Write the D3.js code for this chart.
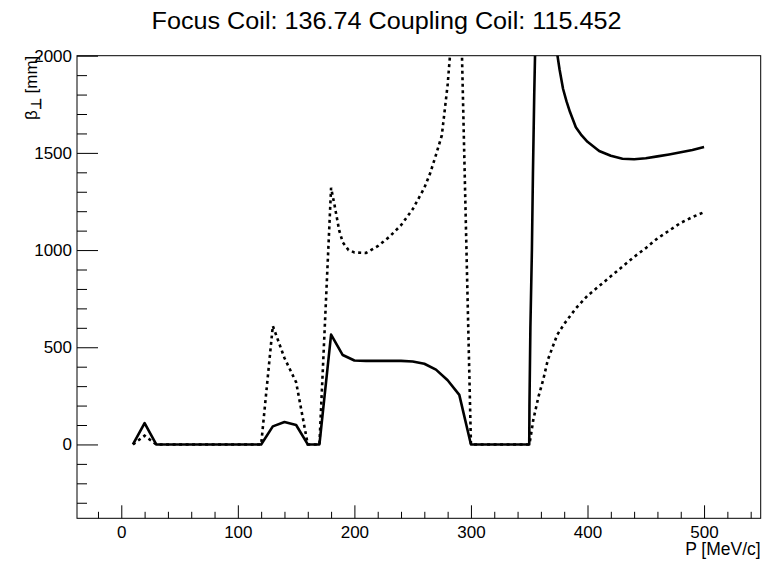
<!DOCTYPE html>
<html>
<head>
<meta charset="utf-8">
<script src="https://cdn.jsdelivr.net/npm/d3@7"></script>
<style>
  html, body { margin: 0; padding: 0; background: #fff; }
  text { font-family: "Liberation Sans", Arial, Helvetica, sans-serif; fill: #000; }
</style>
</head>
<body>
<svg id="chart" width="773" height="561"></svg>
<script>
// ---- data ----
const titleText = "Focus Coil: 136.74 Coupling Coil: 115.452";
const xTitle = "P [MeV/c]";
const yTickValues = [0, 500, 1000, 1500, 2000];
const xTickValues = [0, 100, 200, 300, 400, 500];

// solid curve
const solidP = [10, 20, 30, 40, 50, 60, 70, 80, 90, 100, 110, 120, 130, 140, 150, 160, 170, 180, 190, 200,
  210, 220, 230, 240, 250, 260, 270, 280, 290, 300, 310, 320, 330, 340, 350, 350.2, 351, 352.3, 353.2, 354.3, 356, 360,
  370, 373, 376, 379, 382, 385, 390, 395, 400, 410, 420, 430, 440, 450, 460, 470, 480, 490, 500];
const solidBeta = [0, 110, 0, 0, 0, 0, 0, 0, 0, 0, 0, 0, 93, 115, 100, 0, 0, 565, 460, 432,
  430, 430, 430, 430, 427, 415, 385, 330, 255, 0, 0, 0, 0, 0, 0, 200, 600, 1000, 1400, 1800, 2300, 6000,
  2300, 2050, 1930, 1830, 1765, 1710, 1632, 1590, 1557, 1510, 1485, 1470, 1467, 1472, 1482, 1492, 1503, 1515, 1530];

// dotted curve
const dottedP = [10, 20, 30, 40, 50, 60, 70, 80, 90, 100, 110, 120, 130, 140, 150, 160, 170, 180, 183, 187, 190, 195, 200,
  210, 220, 230, 240, 250, 260, 265, 270, 275, 280, 290, 300, 310, 320, 330, 340, 350, 351, 353.5, 358, 362, 366, 370, 374,
  380, 390, 400, 410, 420, 430, 440, 450, 460, 470, 480, 490, 500];
const dottedBeta = [0, 45, 0, 0, 0, 0, 0, 0, 0, 0, 0, 0, 610, 445, 320, 0, 0, 1320, 1230, 1100, 1040, 1000, 988,
  985, 1020, 1068, 1128, 1210, 1320, 1395, 1490, 1590, 1850, 2600, 0, 0, 0, 0, 0, 0, 30, 127, 247, 333, 436, 500, 564,
  620, 700, 765, 815, 865, 915, 965, 1010, 1060, 1100, 1140, 1170, 1195];

// ---- layout ----
const frame = { left: 77, right: 760.7, top: 55.7, bottom: 518.3 };
const svg = d3.select("#chart");

const x = d3.scaleLinear().domain([-38, 548.6]).range([frame.left, frame.right]);
const y = d3.scaleLinear().domain([-380, 2000]).range([frame.bottom, frame.top]);

// clip
svg.append("defs").append("clipPath").attr("id", "clip")
  .append("rect")
  .attr("x", frame.left).attr("y", frame.top)
  .attr("width", frame.right - frame.left).attr("height", frame.bottom - frame.top);

// frame
svg.append("rect")
  .attr("x", frame.left).attr("y", frame.top)
  .attr("width", frame.right - frame.left).attr("height", frame.bottom - frame.top)
  .attr("fill", "none").attr("stroke", "#000").attr("stroke-width", 1);

// minor ticks
const yMinor = d3.range(-300, 2000, 100).filter(v => v % 500 !== 0);
const xMinor = d3.range(-20, 548, 20).filter(v => v % 100 !== 0);

const yMinorAxis = d3.axisLeft(y).tickValues(yMinor).tickSize(-10).tickSizeOuter(0).tickFormat("");
const xMinorAxis = d3.axisBottom(x).tickValues(xMinor).tickSize(-6.5).tickSizeOuter(0).tickFormat("");
const yAxis = d3.axisLeft(y).tickValues(yTickValues).tickSize(-21).tickSizeOuter(0).tickPadding(5).tickFormat(d3.format("d"));
const xAxis = d3.axisBottom(x).tickValues(xTickValues).tickSize(-13).tickSizeOuter(0).tickPadding(9).tickFormat(d3.format("d"));

function styleAxis(g) {
  g.select(".domain").remove();
  g.selectAll("line").attr("stroke", "#000").attr("stroke-width", 1);
  g.selectAll("text").attr("font-family", "Liberation Sans, Arial, sans-serif").attr("font-size", 17).attr("fill", "#000");
}

svg.append("g").attr("transform", `translate(${frame.left},0)`).call(yMinorAxis).call(styleAxis);
svg.append("g").attr("transform", `translate(0,${frame.bottom})`).call(xMinorAxis).call(styleAxis);
const gy = svg.append("g").attr("transform", `translate(${frame.left},0)`).call(yAxis).call(styleAxis);
const gx = svg.append("g").attr("transform", `translate(0,${frame.bottom})`).call(xAxis).call(styleAxis);
gx.selectAll("text").attr("dy", "0.71em").attr("y", 8);

// curves
const line = d3.line().x(d => x(d[0])).y(d => y(d[1]));
const plot = svg.append("g").attr("clip-path", "url(#clip)");

plot.append("path")
  .datum(dottedP.map((p, i) => [p, dottedBeta[i]]))
  .attr("d", line)
  .attr("fill", "none").attr("stroke", "#000").attr("stroke-width", 2.6)
  .attr("stroke-dasharray", "3,3.5");

plot.append("path")
  .datum(solidP.map((p, i) => [p, solidBeta[i]]))
  .attr("d", line)
  .attr("fill", "none").attr("stroke", "#000").attr("stroke-width", 2.6)
  .attr("stroke-linejoin", "round");

// title
svg.append("text")
  .attr("x", 386.5).attr("y", 28.5)
  .attr("text-anchor", "middle")
  .attr("font-size", 23)
  .attr("textLength", 470)
  .attr("lengthAdjust", "spacingAndGlyphs")
  .text(titleText);

// x axis title
svg.append("text")
  .attr("x", frame.right).attr("y", 555)
  .attr("text-anchor", "end")
  .attr("font-size", 17.5)
  .text(xTitle);

// y axis title: β⊥ [mm]
const yt = svg.append("text")
  .attr("transform", `translate(36.5,${frame.top}) rotate(-90)`)
  .attr("text-anchor", "end")
  .attr("font-size", 17);
yt.append("tspan").text("β");
yt.append("tspan").attr("dy", 4).attr("font-size", 14).attr("font-weight", "bold").text("⊥");
yt.append("tspan").attr("dy", -4).text(" [mm]");
</script>
</body>
</html>
